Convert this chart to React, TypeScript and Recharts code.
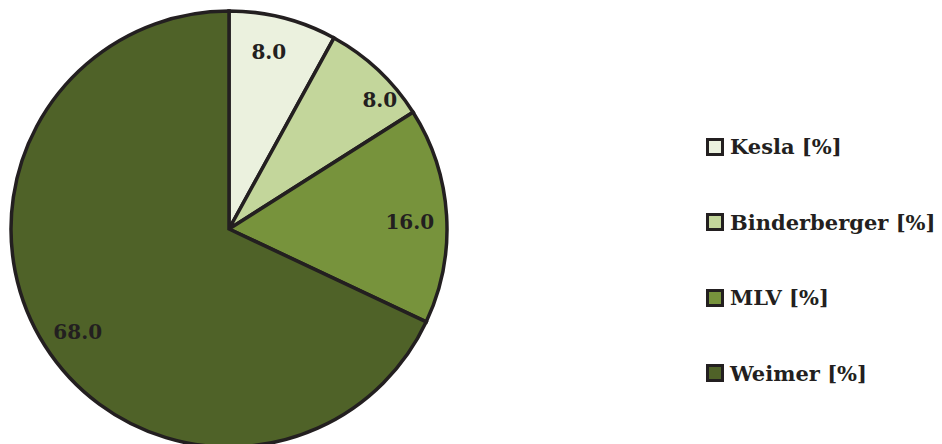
import { PieChart, Pie, Cell, Legend } from "recharts";

const NAMES = ["Kesla [%]", "Binderberger [%]", "MLV [%]", "Weimer [%]"];
const VALUES = [8.0, 8.0, 16.0, 68.0];
const COLORS = ["#ebf1de", "#c3d69b", "#77933c", "#4f6228"];
const EDGE = "#231f20";
const FONT = "'DejaVu Serif', serif";

// label placement tweaks (angle shift in deg, radius fraction), like Excel's best fit
const LABEL_NUDGE = [
  { da: 1.7, r: 0.83 },
  { da: -6.3, r: 0.91 },
  { da: -1.4, r: 0.83 },
  { da: 1.9, r: 0.84 },
];

const RAD = Math.PI / 180;

function renderLabel(props: any) {
  const { cx, cy, midAngle, outerRadius, index, value } = props;
  const n = LABEL_NUDGE[index];
  const a = (midAngle + n.da) * RAD;
  const r = outerRadius * n.r;
  const x = cx + r * Math.cos(a);
  const y = cy - r * Math.sin(a);
  return (
    <text
      x={x}
      y={y}
      textAnchor="middle"
      dominantBaseline="central"
      fill="#231f20"
      fontFamily={FONT}
      fontSize={20}
      fontWeight={700}
    >
      {Number(value).toFixed(1)}
    </text>
  );
}

function LegendBox() {
  return (
    <div style={{ fontFamily: FONT }}>
      {NAMES.map((name, i) => (
        <div
          key={name}
          style={{ display: "flex", alignItems: "center", height: 75.5 }}
        >
          <span
            style={{
              width: 12,
              height: 12,
              background: COLORS[i],
              border: `3px solid ${EDGE}`,
              marginRight: 6,
              display: "inline-block",
            }}
          />
          <span style={{ fontSize: 21, fontWeight: 700, color: "#231f20" }}>
            {name}
          </span>
        </div>
      ))}
    </div>
  );
}

export default function App() {
  const data = NAMES.map((name, i) => ({ name, value: VALUES[i] }));
  return (
    <div style={{ position: "absolute", left: 0, top: 0, background: "#fff" }}>
      <PieChart
        width={942}
        height={444}
        margin={{ top: 0, right: 0, bottom: 0, left: 0 }}
      >
        <Pie
          data={data}
          dataKey="value"
          nameKey="name"
          cx={229}
          cy={229}
          outerRadius={218}
          startAngle={90}
          endAngle={-270}
          stroke={EDGE}
          strokeWidth={3.5}
          label={renderLabel}
          labelLine={false}
          isAnimationActive={false}
        >
          {data.map((_, i) => (
            <Cell key={i} fill={COLORS[i]} />
          ))}
        </Pie>
        <Legend
          layout="vertical"
          content={() => <LegendBox />}
          wrapperStyle={{ left: 706, top: 109, width: 236 }}
        />
      </PieChart>
    </div>
  );
}
